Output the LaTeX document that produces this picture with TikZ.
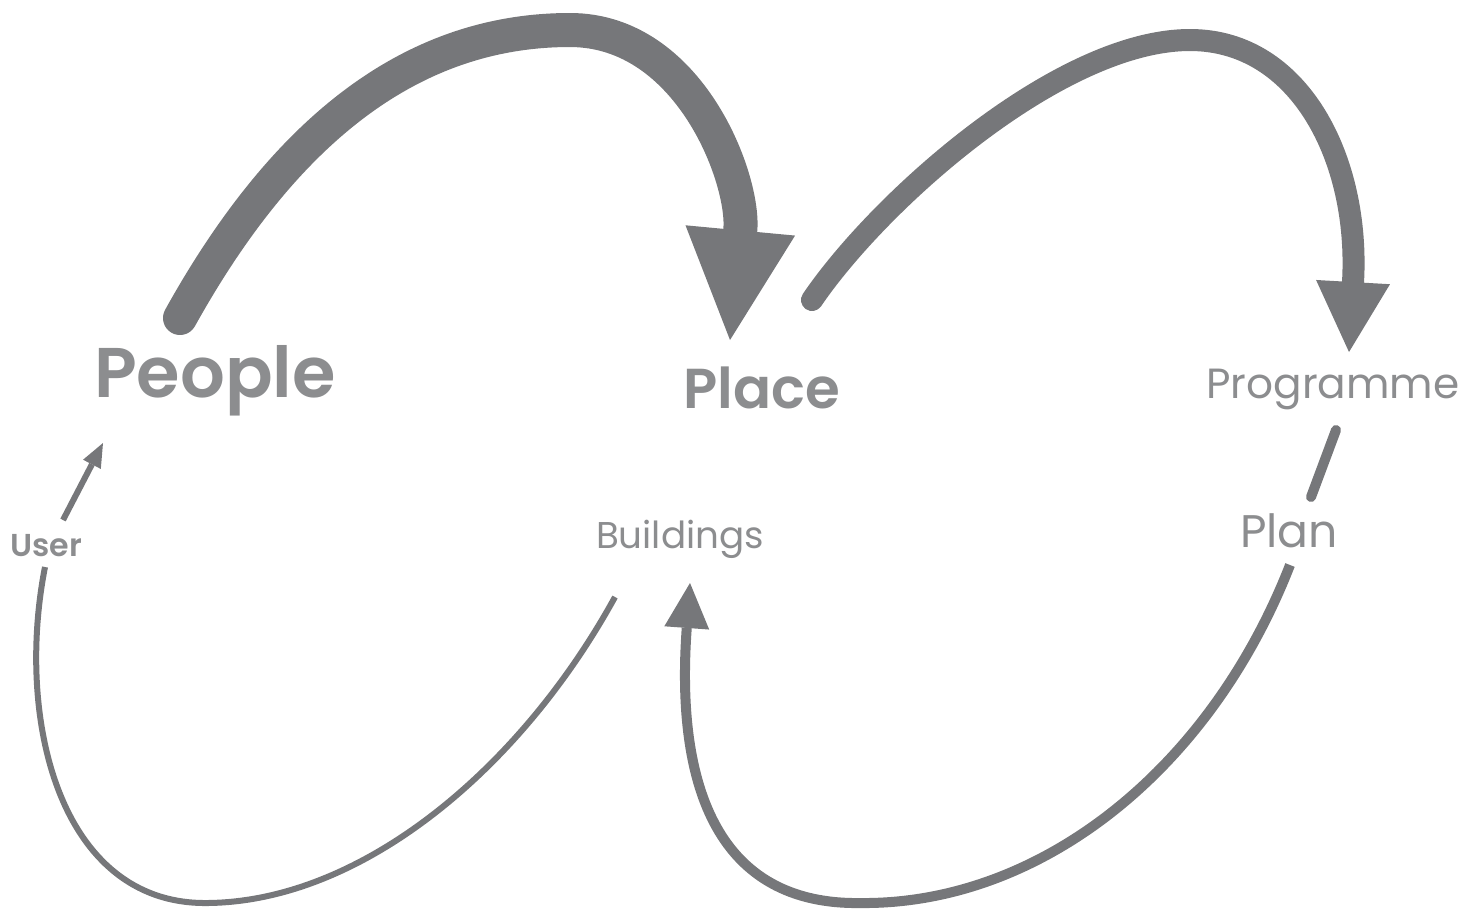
\documentclass[tikz,border=0pt]{standalone}
\usepackage{fontspec}
\setmainfont{Poppins}
\newfontfamily\semibold{Poppins SemiBold}
\usetikzlibrary{arrows.meta}
\definecolor{arrowgray}{RGB}{118,119,122}
\definecolor{textgray}{RGB}{140,141,143}
\tikzset{
  lbl/.style={text=textgray, inner sep=0pt, anchor=base},
  bigline/.style={draw=arrowgray, line width=3.4mm, line cap=round},
  midline/.style={draw=arrowgray, line width=2.2mm, line cap=round},
  thinline/.style={draw=arrowgray, line width=1mm},
  hairline/.style={draw=arrowgray, line width=0.6mm},
}

\begin{document}
\begin{tikzpicture}[x=0.01cm, y=-0.01cm]
  \useasboundingbox (0,0) rectangle (1467,911);
  % labels
  \node[lbl, font=\fontsize{20}{24}\semibold] (people) at (215,397) {People};
  \node[lbl, font=\fontsize{16}{19}\semibold] (place) at (762,408) {Place};
  \node[lbl, font=\fontsize{12}{15}\selectfont] (programme) at (1333,398) {Programme};
  \node[lbl, font=\fontsize{13}{16}\selectfont] (plan) at (1289,547) {Plan};
  \node[lbl, font=\fontsize{10.6}{13}\selectfont] (buildings) at (680,548) {Buildings};
  \node[lbl, font=\fontsize{9}{11}\semibold] (user) at (46,556) {User};
  % top loops
  \draw[bigline, -{Triangle[length=11mm, width=11mm, line width=0pt]}]
    ([shift={(-35,-79)}]people.base) .. controls (290,120) and (420,30) .. (570,30)
    .. controls (690,30) and (745,180) .. ([shift={(-32,-68)}]place.base);
  \draw[midline, -{Triangle[length=7mm, width=7.4mm, line width=0pt]}]
    ([shift={(50,-108)}]place.base) .. controls (880,200) and (1060,40) .. (1190,40)
    .. controls (1300,40) and (1360,160) .. ([shift={(16,-46)}]programme.base);
  % bottom loops
  \draw[thinline, line cap=round] ([shift={(3,32)}]programme.base) -- ([shift={(22,-50)}]plan.base);
  \draw[thinline, -{Triangle[length=4.5mm, width=4.5mm, line width=0pt]}]
    ([shift={(1,18)}]plan.base) .. controls (1210,770) and (1040,905) .. (860,903)
    .. controls (720,905) and (675,790) .. ([shift={(10,35)}]buildings.base);
  \draw[hairline] ([shift={(-65,49)}]buildings.base) .. controls (520,770) and (360,903) .. (205,903)
    .. controls (60,903) and (15,720) .. ([shift={(-1,11)}]user.base);
  \draw[hairline, -{Triangle[length=2.4mm, width=2mm, line width=0pt]}]
    ([shift={(17,-36)}]user.base) -- ([shift={(-112,46)}]people.base);
\end{tikzpicture}
\end{document}
